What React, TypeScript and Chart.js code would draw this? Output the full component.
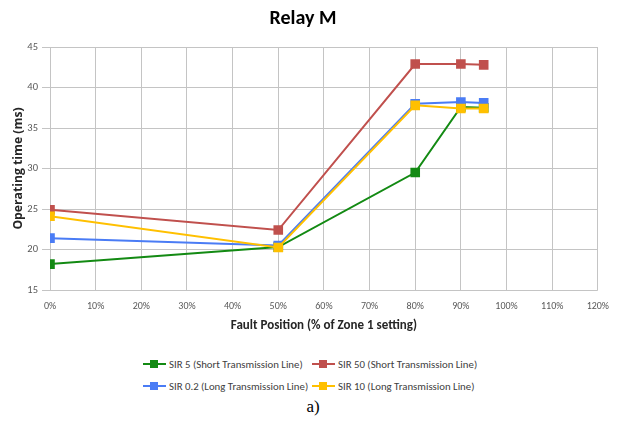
import React, { useEffect, useRef } from "react";
import { Chart, registerables } from "chart.js";

Chart.register(...registerables);

// Fault position along the line, in % of the Zone 1 setting
const faultPositions = [0, 50, 80, 90, 95];

// Operating time of relay M (ms) for each source-to-line impedance ratio
const sir5Short = [18.2, 20.3, 29.5, 37.6, 37.5];
const sir50Short = [24.9, 22.4, 42.9, 42.9, 42.8];
const sir02Long = [21.4, 20.5, 38.0, 38.2, 38.1];
const sir10Long = [24.1, 20.25, 37.8, 37.4, 37.4];

const seriesNames = [
  "SIR 5 (Short Transmission Line)",
  "SIR 50 (Short Transmission Line)",
  "SIR 0.2 (Long Transmission Line)",
  "SIR 10 (Long Transmission Line)",
];
const seriesColors = ["#138a13", "#c0504d", "#4a7cf5", "#ffc000"];

const xTickMin = 0;
const xTickMax = 120;
const xTickStep = 10;
const yTickMin = 15;
const yTickMax = 45;
const yTickStep = 5;

const chartTitle = "Relay M";
const xTitle = "Fault Position (% of Zone 1 setting)";
const yTitle = "Operating time (ms)";
const caption = "a)";

const FONT = "Carlito, 'Liberation Sans Narrow', Lato, sans-serif";

function LegendItem({ name, color }: { name: string; color: string }) {
  return (
    <div style={{ display: "flex", alignItems: "center", height: 14 }}>
      <div style={{ position: "relative", width: 23, height: 14, marginRight: 3 }}>
        <div
          style={{
            position: "absolute",
            left: 0,
            top: 6,
            width: 23,
            height: 2,
            background: color,
          }}
        />
        <div
          style={{
            position: "absolute",
            left: 7,
            top: 3,
            width: 8,
            height: 8,
            background: color,
          }}
        />
      </div>
      <span style={{ fontFamily: FONT, fontSize: 10.8, color: "#404040", whiteSpace: "nowrap" }}>
        {name}
      </span>
    </div>
  );
}

export default function App() {
  const canvasRef = useRef<HTMLCanvasElement | null>(null);

  useEffect(() => {
    if (!canvasRef.current) return;
    const allSeries = [sir5Short, sir50Short, sir02Long, sir10Long];
    // later series are drawn on top (lower `order` draws last)
    const datasets = allSeries.map((vals, i) => ({
      label: seriesNames[i],
      data: vals.map((v, j) => ({ x: faultPositions[j], y: v })),
      borderColor: seriesColors[i],
      backgroundColor: seriesColors[i],
      borderWidth: 2,
      pointStyle: "rect" as const,
      pointRadius: 6.8,
      pointHoverRadius: 6.8,
      pointBorderWidth: 0,
      tension: 0,
      order: allSeries.length - i,
    }));

    const chart = new Chart(canvasRef.current, {
      type: "line",
      data: { datasets },
      options: {
        animation: false,
        responsive: false,
        maintainAspectRatio: false,
        layout: { padding: { left: 8, right: 21, top: 0, bottom: 10 } },
        plugins: {
          legend: { display: false },
          tooltip: { enabled: false },
          title: {
            display: true,
            text: chartTitle,
            color: "#000000",
            font: { family: FONT, size: 20, weight: "bold" },
            padding: { top: 7, bottom: 16 },
          },
        },
        scales: {
          x: {
            type: "linear",
            min: xTickMin,
            max: xTickMax,
            afterFit: (s: any) => {
              s.height = 45;
            },
            ticks: {
              stepSize: xTickStep,
              callback: (v: any) => `${v}%`,
              color: "#595959",
              font: { family: FONT, size: 10 },
              padding: 10,
              maxRotation: 0,
            },
            grid: { color: "#c4c4c4", lineWidth: 1, drawTicks: false },
            border: { display: false },
            title: {
              display: true,
              text: xTitle,
              color: "#262626",
              font: { family: FONT, size: 13, weight: "bold" },
              padding: { top: 0, bottom: 1 },
            },
          },
          y: {
            type: "linear",
            min: yTickMin,
            max: yTickMax,
            afterFit: (s: any) => {
              s.width = 42;
            },
            ticks: {
              stepSize: yTickStep,
              color: "#595959",
              font: { family: FONT, size: 10.5 },
              padding: 4,
            },
            grid: { color: "#c4c4c4", lineWidth: 1, tickLength: 8 },
            border: { display: false },
            title: {
              display: true,
              text: yTitle,
              color: "#262626",
              font: { family: "'Open Sans', sans-serif", size: 12.2, weight: "bold" },
              padding: { top: 3, bottom: 0 },
            },
          },
        },
      },
    });
    return () => chart.destroy();
  }, []);

  return (
    <div
      style={{
        position: "fixed",
        left: 0,
        top: 0,
        width: 619,
        height: 421,
        background: "#ffffff",
        overflow: "hidden",
      }}
    >
      <canvas ref={canvasRef} width={619} height={345} style={{ display: "block" }} />
      <div style={{ position: "absolute", left: 143, top: 357 }}>
        <LegendItem name={seriesNames[0]} color={seriesColors[0]} />
      </div>
      <div style={{ position: "absolute", left: 312, top: 357 }}>
        <LegendItem name={seriesNames[1]} color={seriesColors[1]} />
      </div>
      <div style={{ position: "absolute", left: 143, top: 379 }}>
        <LegendItem name={seriesNames[2]} color={seriesColors[2]} />
      </div>
      <div style={{ position: "absolute", left: 312, top: 379 }}>
        <LegendItem name={seriesNames[3]} color={seriesColors[3]} />
      </div>
      <div
        style={{
          position: "absolute",
          left: 0,
          width: 626,
          top: 397,
          textAlign: "center",
          fontFamily: "'Liberation Serif', 'Times New Roman', serif",
          fontSize: 17,
          lineHeight: "20px",
          color: "#000000",
        }}
      >
        {caption}
      </div>
    </div>
  );
}
